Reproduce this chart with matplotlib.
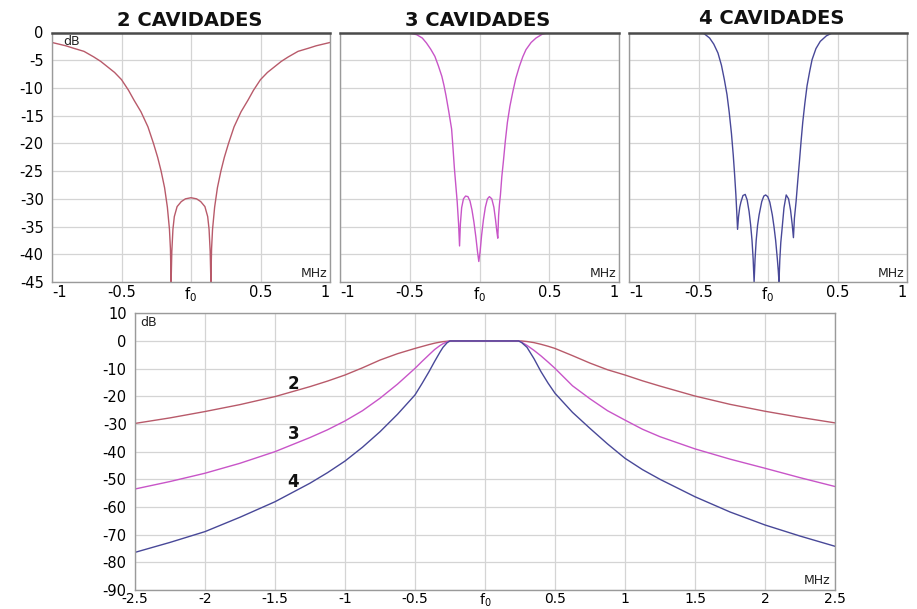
import matplotlib
matplotlib.use("Agg")
import matplotlib.pyplot as plt

plt.rcParams['font.family'] = ['DejaVu Sans']
plt.rcParams['mathtext.fontset'] = 'dejavusans'
plt.rcParams['mathtext.default'] = 'regular'

# ---------------- data ----------------
titles = ["2 CAVIDADES", "3 CAVIDADES", "4 CAVIDADES"]

# 2 cavities (top panel, MHz offset from f0, dB)
x2_top = [-1.0, -0.9, -0.85, -0.77, -0.7, -0.65, -0.6, -0.55, -0.5, -0.45, -0.41, -0.36,
          -0.31, -0.27, -0.24, -0.215, -0.19, -0.17, -0.155, -0.148, -0.143,
          -0.138, -0.13, -0.12, -0.1, -0.07, -0.04, 0.0, 0.04, 0.07, 0.1, 0.12, 0.13,
          0.138, 0.143, 0.148, 0.155, 0.17, 0.19, 0.215, 0.24, 0.27, 0.31, 0.36, 0.41,
          0.45, 0.5, 0.55, 0.6, 0.65, 0.7, 0.77, 0.85, 0.9, 1.0]
y2_top = [-1.8, -2.4, -2.8, -3.4, -4.4, -5.2, -6.2, -7.2, -8.5, -10.4, -12.2, -14.3,
          -17.0, -20.0, -22.5, -25.0, -28.0, -31.5, -35.5, -39.0, -45.0,
          -39.5, -35.5, -33.2, -31.4, -30.5, -30.0, -29.8, -30.0, -30.5, -31.4, -33.2, -35.5,
          -39.5, -45.0, -39.0, -35.5, -31.5, -28.0, -25.0, -22.5, -20.0, -17.0, -14.3, -12.2,
          -10.4, -8.5, -7.2, -6.2, -5.2, -4.4, -3.4, -2.8, -2.4, -1.8]

# 3 cavities
x3_top = [-1.0, -0.55, -0.5, -0.45, -0.41, -0.38, -0.35, -0.32, -0.295, -0.27, -0.255,
          -0.24, -0.22, -0.2, -0.19, -0.18, -0.17, -0.16, -0.15, -0.143,
          -0.137, -0.128, -0.115, -0.1, -0.083, -0.068, -0.054, -0.04, -0.026, -0.014, -0.005,
          0.004, 0.015, 0.028, 0.042, 0.057, 0.071, 0.088, 0.103, 0.115, 0.124, 0.131,
          0.137, 0.143, 0.15, 0.16, 0.171, 0.185, 0.2, 0.218, 0.238, 0.26, 0.286, 0.31,
          0.333, 0.37, 0.405, 0.45, 0.5, 1.0]
y3_top = [0.0, 0.0, -0.1, -0.4, -1.0, -1.9, -3.0, -4.3, -6.0, -7.9, -9.5,
          -11.4, -14.3, -17.4, -20.8, -24.5, -27.5, -30.5, -34.5, -38.5,
          -34.5, -31.6, -30.0, -29.5, -29.6, -30.4, -32.0, -34.2, -36.9, -39.6, -41.3,
          -39.6, -36.6, -33.8, -31.5, -30.0, -29.6, -30.0, -31.5, -33.8, -35.8, -37.1,
          -33.0, -31.0, -29.3, -26.0, -23.3, -19.6, -16.2, -13.3, -10.8, -8.3, -6.1, -4.4,
          -3.1, -1.8, -1.0, -0.3, 0.0, 0.0]

# 4 cavities
x4_top = [-1.0, -0.505, -0.46, -0.42, -0.39, -0.36, -0.335, -0.314, -0.295, -0.279, -0.263,
          -0.25, -0.24, -0.231, -0.225, -0.219, -0.212, -0.203, -0.195, -0.18,
          -0.164, -0.15, -0.136, -0.125, -0.115, -0.107, -0.1, -0.093, -0.085, -0.075,
          -0.064, -0.045, -0.03, -0.017, -0.002, 0.013, 0.031, 0.043, 0.055, 0.067, 0.074,
          0.079, 0.085, 0.092, 0.102, 0.115, 0.131, 0.148, 0.162, 0.174, 0.183, 0.19,
          0.202, 0.214, 0.226, 0.238, 0.25, 0.265, 0.281, 0.3, 0.317, 0.345, 0.376,
          0.42, 0.46, 0.5, 1.0]
y4_top = [0.0, 0.0, -0.2, -1.0, -2.1, -3.7, -5.9, -8.5, -11.2, -14.4, -18.2,
          -22.1, -25.7, -29.3, -32.3, -35.5, -33.2, -31.5, -30.6, -29.4,
          -29.2, -30.2, -32.3, -34.7, -37.5, -40.8, -45.0, -40.8, -37.5, -34.8,
          -32.9, -30.5, -29.5, -29.3, -29.6, -30.6, -32.9, -35.0, -37.5, -40.8, -43.0,
          -45.0, -41.0, -37.9, -35.2, -31.6, -29.3, -30.0, -32.0, -34.6, -37.0, -33.5,
          -30.5, -26.8, -23.3, -19.6, -16.2, -12.8, -9.6, -7.0, -4.9, -2.9, -1.6,
          -0.6, -0.1, 0.0, 0.0]

# wide-span comparison (bottom panel)
x_wide = [-2.5, -2.25, -2.0, -1.75, -1.5, -1.25, -1.125, -1.0, -0.875, -0.75, -0.625,
          -0.5, -0.45, -0.4, -0.36, -0.32, -0.3, -0.27, -0.25,
          0.0, 0.24, 0.26, 0.3, 0.35, 0.4, 0.45, 0.5, 0.625, 0.75, 0.875, 1.0, 1.125,
          1.25, 1.5, 1.75, 2.0, 2.25, 2.5]
y2_wide = [-29.8, -27.8, -25.5, -23.0, -20.1, -16.5, -14.5, -12.3, -9.7, -6.9, -4.6,
           -2.7, -2.0, -1.3, -0.8, -0.4, -0.25, -0.1, 0.0,
           0.0, 0.0, 0.0, -0.2, -0.6, -1.2, -1.9, -2.7, -5.3, -8.0, -10.4, -12.3, -14.4,
           -16.3, -19.9, -22.9, -25.4, -27.6, -29.6]
y3_wide = [-53.5, -50.8, -47.8, -44.2, -40.0, -34.9, -32.1, -28.9, -25.2, -20.7, -15.6,
           -9.9, -7.4, -5.0, -3.1, -1.6, -1.0, -0.3, 0.0,
           0.0, 0.0, -0.4, -1.6, -3.4, -5.4, -7.6, -9.9, -16.2, -20.9, -25.2, -28.6, -31.9,
           -34.6, -39.0, -42.7, -46.0, -49.4, -52.6]
y4_wide = [-76.4, -72.8, -68.9, -63.7, -58.1, -51.4, -47.6, -43.4, -38.4, -32.8, -26.5,
           -19.5, -15.4, -11.1, -7.4, -3.9, -2.3, -0.6, 0.0,
           0.0, 0.0, -0.5, -2.3, -6.4, -11.1, -15.2, -18.9, -25.8, -31.6, -37.2, -42.4, -46.5,
           -50.0, -56.3, -61.8, -66.5, -70.5, -74.2]
curve_labels = ["2", "3", "4"]
curve_label_x = [-1.37, -1.37, -1.37]
curve_label_y = [-15.5, -33.5, -51.0]

top_xticks = [-1, -0.5, 0, 0.5, 1]
top_xticklabels = ["-1", "-0.5", "f$_{0}$", "0.5", "1"]
top_yticks = [0, -5, -10, -15, -20, -25, -30, -35, -40, -45]
wide_xticks = [-2.5, -2, -1.5, -1, -0.5, 0, 0.5, 1, 1.5, 2, 2.5]
wide_xticklabels = ["-2.5", "-2", "-1.5", "-1", "-0.5", "f$_{0}$", "0.5", "1", "1.5", "2", "2.5"]
wide_yticks = [10, 0, -10, -20, -30, -40, -50, -60, -70, -80, -90]

colors = ["#b85a6a", "#c855c8", "#484898"]

# ---------------- figure ----------------
W, H = 917, 609
fig = plt.figure(figsize=(W / 100, H / 100), dpi=100)
fig.patch.set_facecolor("white")

def frac(left, top, right, bottom):
    return [left / W, 1 - bottom / H, (right - left) / W, (bottom - top) / H]

grid_c = "#d4d4d4"
spine_c = "#9a9a9a"
tick_fs = 10.5
small_fs = 9

top_rects = [frac(52, 32.5, 330, 282), frac(340, 32.5, 619, 282), frac(629, 32.5, 907, 282)]
top_data = [(x2_top, y2_top), (x3_top, y3_top), (x4_top, y4_top)]
title_pos = [(190, 21), (478, 21), (772, 18)]

for i, (rect, (xs, ys)) in enumerate(zip(top_rects, top_data)):
    ax = fig.add_axes(rect)
    ax.plot(xs, ys, color=colors[i], lw=1.0, clip_on=True)
    ax.set_xlim(-1, 1)
    ax.set_ylim(-45, 0)
    ax.set_xticks(top_xticks)
    ax.set_yticks(top_yticks)
    ax.grid(True, color=grid_c, lw=0.9)
    ax.set_axisbelow(True)
    ax.tick_params(length=0, labelsize=tick_fs)
    ax.tick_params(axis="x", pad=2.5)
    ax.set_xticklabels(top_xticklabels)
    labs = ax.get_xticklabels()
    labs[0].set_ha("left")
    labs[-1].set_ha("right")
    if i == 0:
        ax.set_yticklabels([str(v) for v in top_yticks])
        ax.tick_params(axis="y", pad=6)
        ax.text(0.04, 0.99, "dB", transform=ax.transAxes, fontsize=small_fs,
                ha="left", va="top", color="#222222")
    else:
        ax.set_yticklabels([])
    for s in ["left", "right", "bottom"]:
        ax.spines[s].set_color(spine_c)
        ax.spines[s].set_linewidth(1.0)
    ax.spines["top"].set_color("#4a4a4a")
    ax.spines["top"].set_linewidth(1.8)
    ax.text(0.99, 0.01, "MHz", transform=ax.transAxes, fontsize=small_fs,
            ha="right", va="bottom", color="#222222")
    tx, ty = title_pos[i]
    fig.text(tx / W, 1 - ty / H, titles[i], fontsize=14, fontweight="bold",
             ha="center", va="center", color="#111111")

# bottom panel
axb = fig.add_axes(frac(135, 313.3, 835, 590))
for yv, c in zip([y2_wide, y3_wide, y4_wide], colors):
    axb.plot(x_wide, yv, color=c, lw=1.0)
axb.set_xlim(-2.5, 2.5)
axb.set_ylim(-90, 10)
axb.set_xticks(wide_xticks)
axb.set_xticklabels(wide_xticklabels)
axb.set_yticks(wide_yticks)
axb.set_yticklabels([str(v) for v in wide_yticks])
axb.grid(True, color=grid_c, lw=0.9)
axb.set_axisbelow(True)
axb.tick_params(length=0, labelsize=tick_fs)
axb.tick_params(axis="y", pad=6)
axb.tick_params(axis="x", pad=1.5, labelsize=10)
for s in axb.spines.values():
    s.set_color(spine_c)
    s.set_linewidth(1.0)
axb.text(0.008, 0.99, "dB", transform=axb.transAxes, fontsize=small_fs,
         ha="left", va="top", color="#222222")
axb.text(0.993, 0.012, "MHz", transform=axb.transAxes, fontsize=small_fs,
         ha="right", va="bottom", color="#222222")
for lab, lx, ly in zip(curve_labels, curve_label_x, curve_label_y):
    axb.text(lx, ly, lab, fontsize=12, fontweight="bold", ha="center",
             va="center", color="#111111")

fig.savefig("out.png", dpi=100, facecolor="white")
